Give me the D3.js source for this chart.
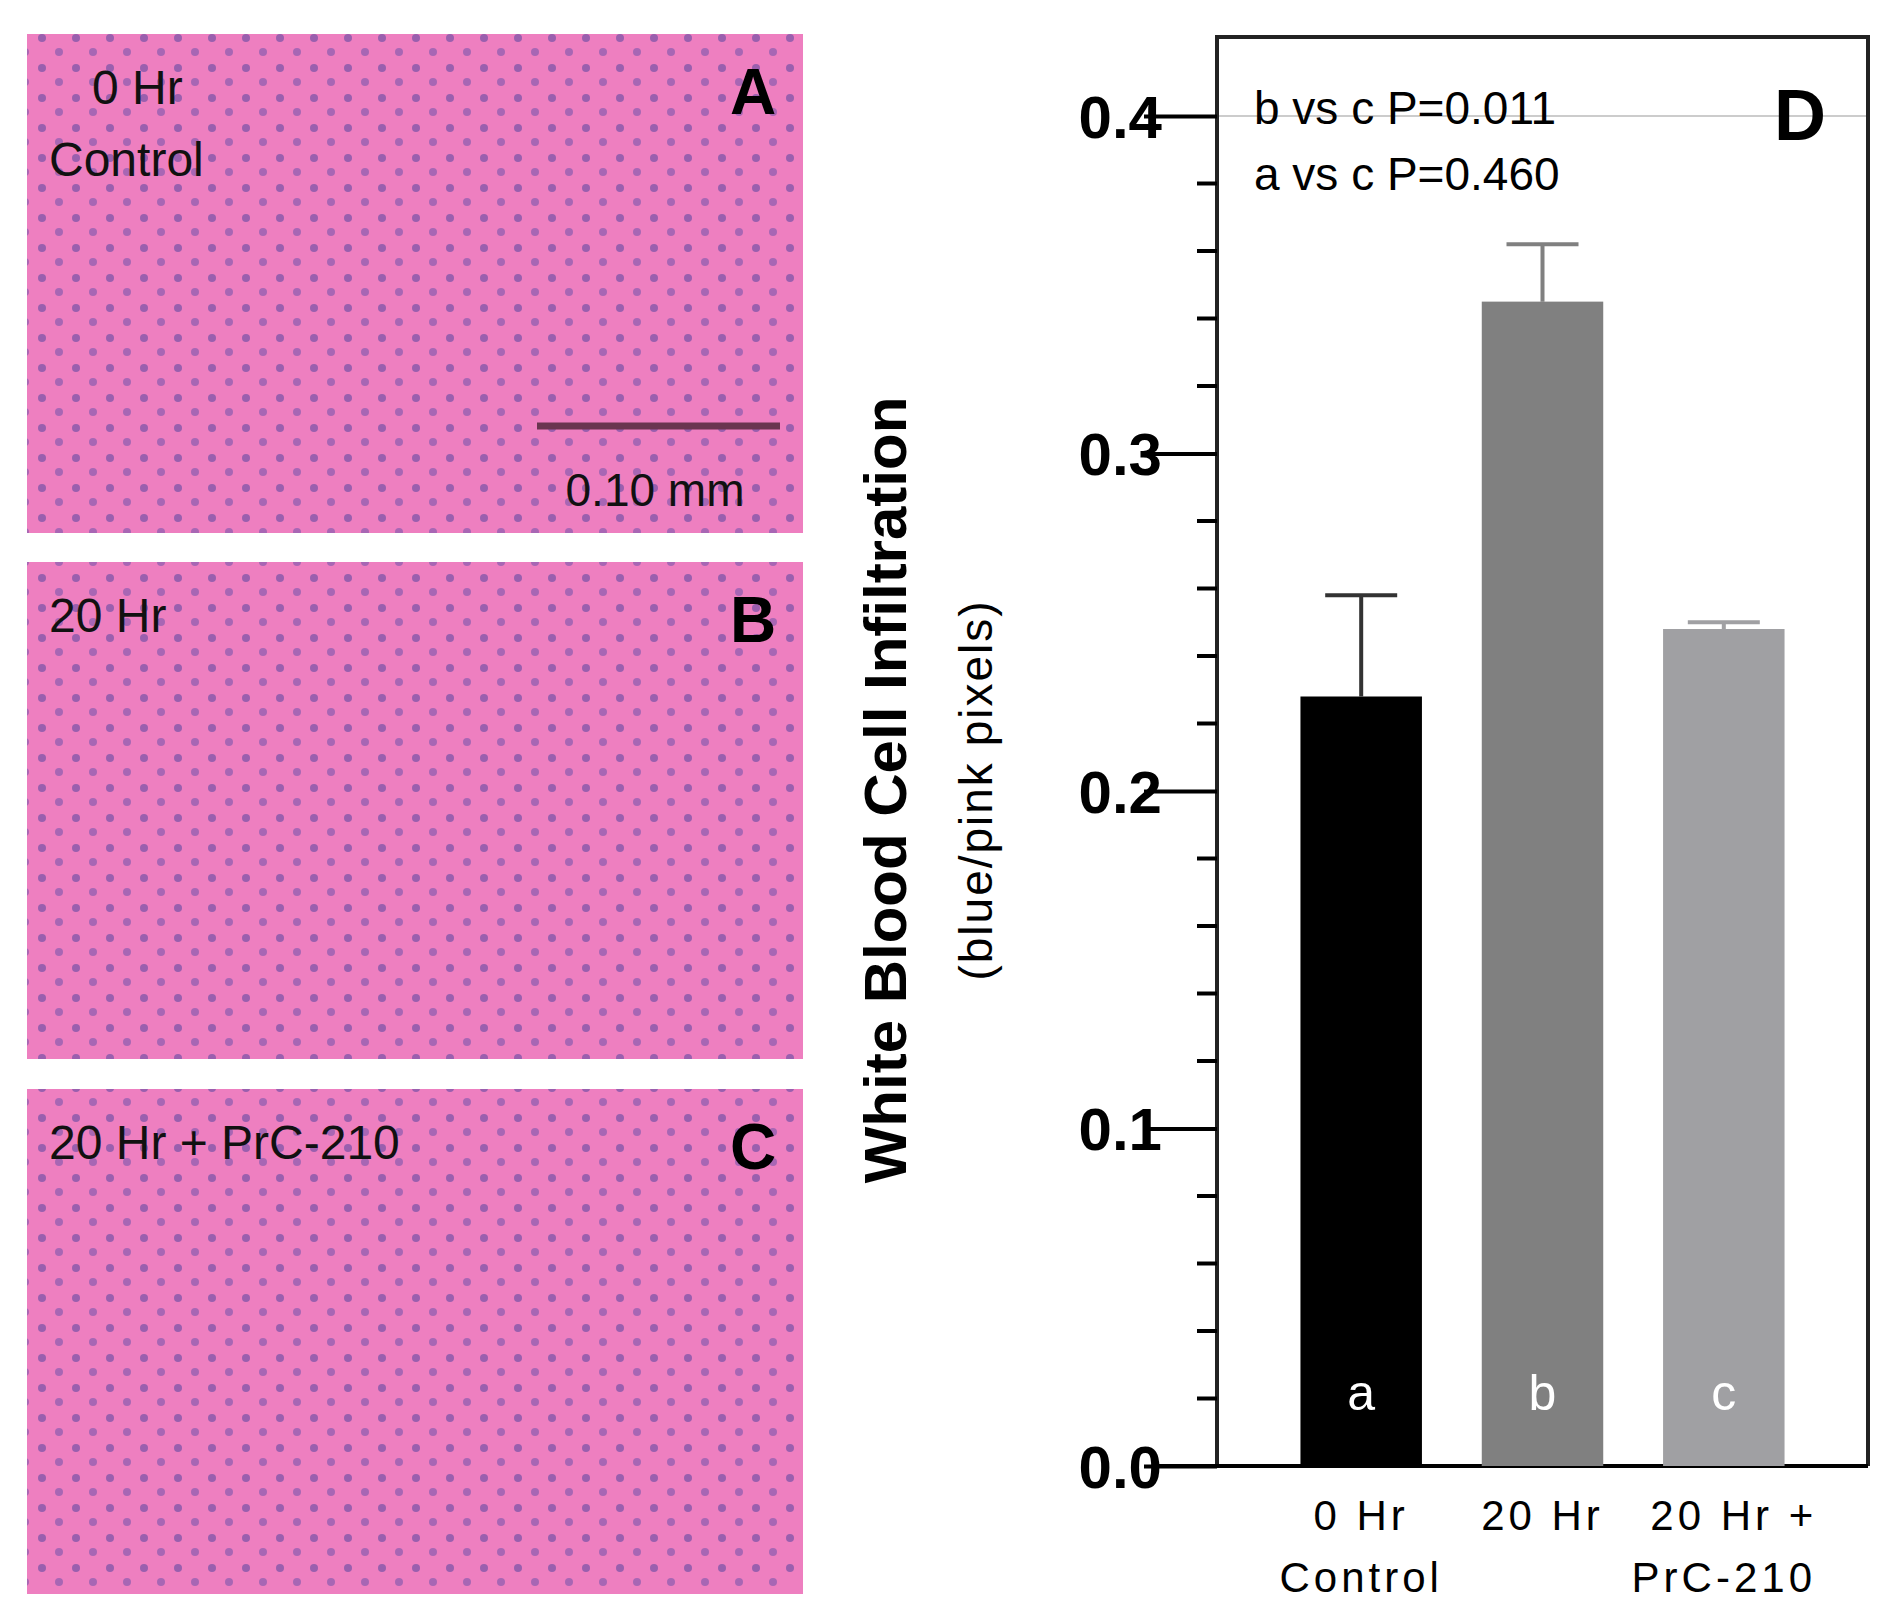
<!DOCTYPE html>
<html><head><meta charset="utf-8">
<script src="https://cdn.jsdelivr.net/npm/d3@7"></script>
<style>body{margin:0;background:#fff}</style>
</head><body>
<div id="chart"></div>
<script>
// bar data
let groups = ["0 Hr|Control", "20 Hr", "20 Hr +|PrC-210"];
let letters = ["a", "b", "c"];
let means = [0.228, 0.345, 0.248];
let errs = [0.030, 0.017, 0.002];
let colors = ["#000000", "#808080", "#a0a0a3"];
let yTicks = [0.0, 0.1, 0.2, 0.3, 0.4];

// histology panels (drawn as placeholders)
let panels = [
  {id: "A", label: ["0 Hr", "Control"], x: 27, y: 34, w: 776, h: 499},
  {id: "B", label: ["20 Hr"], x: 27, y: 562, w: 776, h: 497},
  {id: "C", label: ["20 Hr + PrC-210"], x: 27, y: 1089, w: 776, h: 505}
];

let width = 1898, height = 1619;
let svg = d3.select("#chart").append("svg")
    .attr("width", width).attr("height", height)
    .style("font-family", "Arial, 'Liberation Sans', sans-serif");

let defs = svg.append("defs");
let pat = defs.append("pattern").attr("id", "cells")
    .attr("width", 34).attr("height", 30).attr("patternUnits", "userSpaceOnUse");
pat.append("rect").attr("width", 34).attr("height", 30).attr("fill", "#ee7fc0");
pat.append("circle").attr("cx", 8).attr("cy", 8).attr("r", 4).attr("fill", "#9a5fae");
pat.append("circle").attr("cx", 25).attr("cy", 22).attr("r", 4).attr("fill", "#a866b4");

panels.forEach(p => {
  let g = svg.append("g");
  g.append("rect").attr("x", p.x).attr("y", p.y).attr("width", p.w).attr("height", p.h)
      .attr("fill", "url(#cells)");
  p.label.forEach((t, i) => {
    g.append("text").attr("x", p.x + (p.id == "A" && i == 0 ? 65 : 22))
        .attr("y", p.y + 70 + i * 72)
        .style("font-size", "48px").attr("fill", "#111").text(t);
  });
  g.append("text").attr("x", p.x + p.w - 50).attr("y", p.y + 80)
      .attr("text-anchor", "middle").style("font-size", "64px").style("font-weight", "bold")
      .text(p.id);
});
// scale bar in A
svg.append("line").attr("x1", 537).attr("x2", 780).attr("y1", 426).attr("y2", 426)
    .attr("stroke", "#6a3550").attr("stroke-width", 7);
svg.append("text").attr("x", 655).attr("y", 506).attr("text-anchor", "middle")
    .style("font-size", "46px").attr("fill", "#111").text("0.10 mm");

// bar chart
let pLeft = 1217, pRight = 1868, pTop = 37, pBottom = 1466;
let y = d3.scaleLinear().domain([0, 0.4]).range([pBottom, 116]);
let x = d3.scaleBand().domain(groups).range([pLeft + 20, pRight - 20]).paddingInner(0.33).paddingOuter(0.35);

svg.append("line").attr("x1", pLeft).attr("x2", pRight).attr("y1", y(0.4)).attr("y2", y(0.4))
    .attr("stroke", "#ccc").attr("stroke-width", 2);
svg.append("path").attr("d", `M${pLeft},${pBottom}V${pTop}H${pRight}V${pBottom}`)
    .attr("fill", "none").attr("stroke", "#222").attr("stroke-width", 4);
svg.append("line").attr("x1", pLeft - 60).attr("x2", pRight).attr("y1", pBottom).attr("y2", pBottom)
    .attr("stroke", "#000").attr("stroke-width", 4);

let yAxis = svg.append("g").attr("transform", `translate(${pLeft},0)`)
    .call(d3.axisLeft(y).tickValues(yTicks).tickFormat(d3.format(".1f")).tickSize(73));
yAxis.select(".domain").remove();
yAxis.selectAll("line").attr("stroke-width", 4);
yAxis.selectAll("text").style("font-size", "60px").style("font-weight", "bold")
    .style("font-family", "Arial, sans-serif").attr("dy", "0.35em").attr("x", -55);
let minor = d3.range(0, 0.401, 0.02).filter(v => Math.abs(v * 10 - Math.round(v * 10)) > 1e-6);
svg.append("g").selectAll("line").data(minor).join("line")
    .attr("x1", pLeft - 20).attr("x2", pLeft).attr("y1", d => y(d)).attr("y2", d => y(d))
    .attr("stroke", "#000").attr("stroke-width", 4);

svg.append("g").selectAll("rect").data(groups).join("rect")
    .attr("x", d => x(d)).attr("width", x.bandwidth())
    .attr("y", (d, i) => y(means[i])).attr("height", (d, i) => pBottom - y(means[i]))
    .attr("fill", (d, i) => colors[i]);
svg.append("g").selectAll("path").data(groups).join("path")
    .attr("d", (d, i) => {
      let cx = x(d) + x.bandwidth() / 2, yt = y(means[i] + errs[i]);
      return `M${cx},${y(means[i])}V${yt}M${cx - 36},${yt}H${cx + 36}`;
    })
    .attr("stroke", (d, i) => colors[i] == "#000000" ? "#333" : colors[i]).attr("stroke-width", 4).attr("fill", "none");
svg.append("g").selectAll("text").data(groups).join("text")
    .attr("x", d => x(d) + x.bandwidth() / 2).attr("y", 1410).attr("text-anchor", "middle")
    .style("font-size", "50px").attr("fill", "#fff").text((d, i) => letters[i]);

groups.forEach(gname => {
  gname.split("|").forEach((t, i) => {
    svg.append("text").attr("x", x(gname) + x.bandwidth() / 2 + (i == 0 && t.endsWith("+") ? 10 : 0))
        .attr("y", 1530 + i * 62).attr("text-anchor", "middle")
        .style("font-size", "42px").style("letter-spacing", "4px").text(t);
  });
});

svg.append("text").attr("x", 1254).attr("y", 124).style("font-size", "46px").text("b vs  c P=0.011");
svg.append("text").attr("x", 1254).attr("y", 190).style("font-size", "46px").text("a vs  c P=0.460");
svg.append("text").attr("x", 1800).attr("y", 140).attr("text-anchor", "middle")
    .style("font-size", "72px").style("font-weight", "bold").text("D");

svg.append("text").attr("transform", "translate(906,790) rotate(-90)").attr("text-anchor", "middle")
    .style("font-size", "60px").style("font-weight", "bold").text("White Blood Cell Infiltration");
svg.append("text").attr("transform", "translate(992,790) rotate(-90)").attr("text-anchor", "middle")
    .style("font-size", "46px").style("letter-spacing", "2px").text("(blue/pink pixels)");
</script>
</body></html>
